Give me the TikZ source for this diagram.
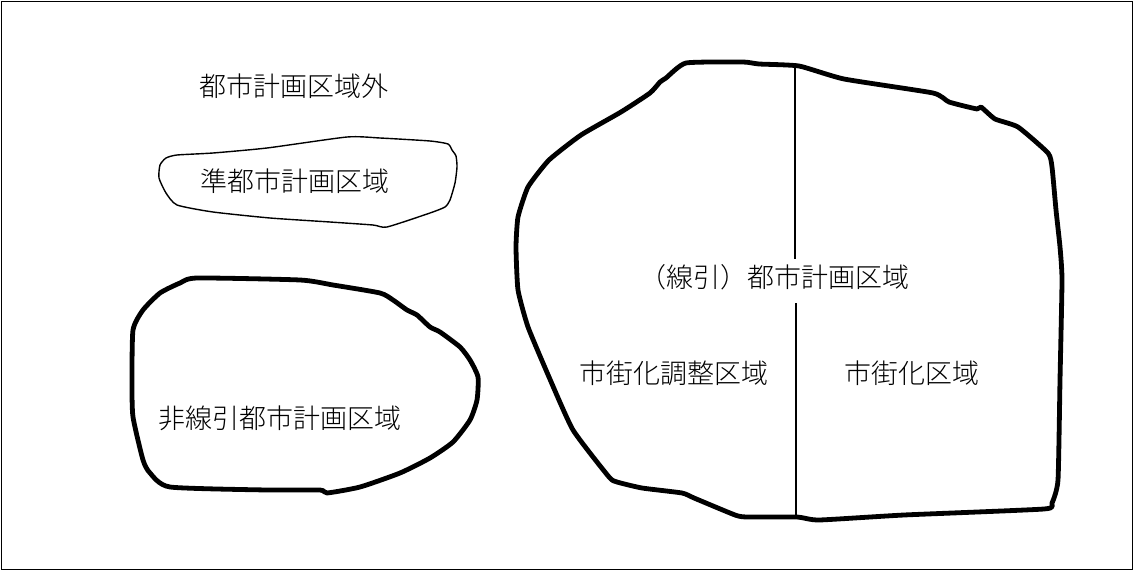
\documentclass[tikz,border=0pt]{standalone}
\usepackage{fontspec}
\newfontfamily\cjk{Noto Sans CJK JP Light}
\tikzset{
  lbl/.style={font=\cjk\fontsize{27}{30}\selectfont, inner sep=0pt, anchor=center},
  thickarea/.style={line width=4.8pt, line join=round},
  thinarea/.style={line width=1.4pt, line join=round},
  frame/.style={line width=1.5pt},
  divider/.style={line width=1.3pt}
}
\begin{document}
\begin{tikzpicture}[x=1pt,y=-1pt]
\useasboundingbox (0,0) rectangle (1134,572);
\draw[frame] (1.5,1.5) rectangle (1132.5,569.5);

% quasi city planning area
\draw[thinarea] plot[smooth cycle, tension=0.35] coordinates {
 (177,155) (213,153) (267,148) (347,137) (380,138) (430,141) (448,144) (452,150) (456,156) (457,167) (455,183) (450,200) (445,207) (430,213) (387,227) (373,225) (330,222) (270,218) (213,212) (177,205) (166,193) (159,178) (160,165) (166,158)};

% non-senbiki area
\draw[thickarea] plot[smooth cycle, tension=0.35] coordinates {
 (197,278) (300,280) (333,285) (380,293) (393,300) (407,310) (417,315) (430,327) (440,332) (460,347) (470,360) (478,377) (477,400) (470,420) (453,442) (430,458) (400,473) (360,487) (327,493) (320,490) (267,490) (170,487) (150,473) (143,460) (133,417) (132,383) (133,330) (143,310) (160,293) (180,283)};

% senbiki area
\draw[thickarea] plot[smooth cycle, tension=0.3] coordinates {
 (686,63) (743,62) (759,64) (799,66) (844,79) (933,93) (949,102) (977,109) (981,107) (995,119) (1018,127) (1048,153) (1052,167) (1056,210) (1060,247) (1062,280) (1060,380) (1058,480) (1052,503) (1044,509) (904,515) (819,520) (797,517) (747,517) (735,515) (694,498) (682,493) (642,488) (617,482) (609,477) (573,430) (549,377) (528,327) (518,290) (516,247) (518,217) (528,187) (549,160) (581,135) (621,112) (650,93) (660,82) (666,78)};

\coordinate (d1) at (795,67);
\coordinate (d2) at (795,259);
\coordinate (d3) at (796,303);
\coordinate (d4) at (796,517);
\draw[divider] (d1) -- (d2);
\draw[divider] (d3) -- (d4);

\node[lbl] (outside) at (294,86) {都市計画区域外};
\node[lbl] (quasi) at (295,181) {準都市計画区域};
\node[lbl] (nonsen) at (280,418) {非線引都市計画区域};
\node[lbl] (senbiki) at (774,277) {（線引）都市計画区域};
\node[lbl] (chousei) at (674,373) {市街化調整区域};
\node[lbl] (shigaika) at (912,373) {市街化区域};
\end{tikzpicture}
\end{document}
